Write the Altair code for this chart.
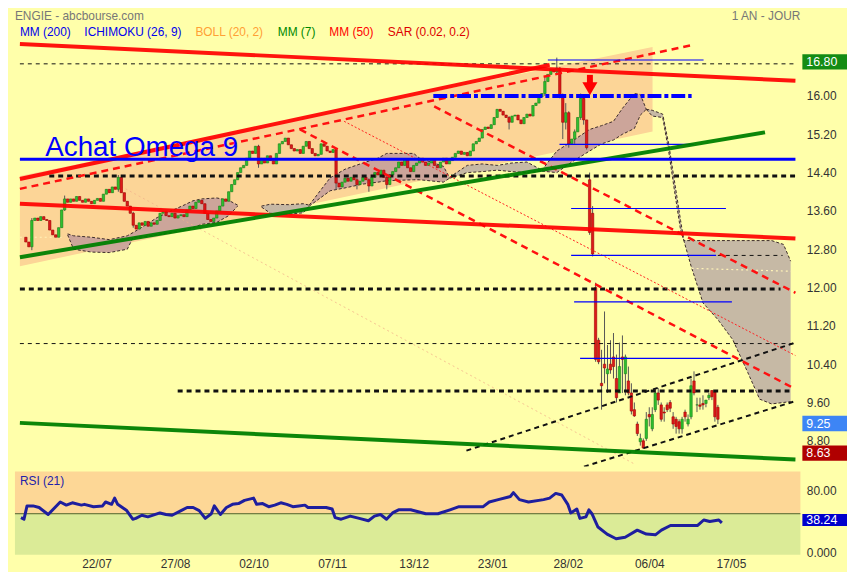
import altair as alt
import pandas as pd

# ---------------------------------------------------------------
# Values  (x = trading-day index, y = price)
# ---------------------------------------------------------------
calm_first_index = 2
calm_first_open = 13.05
calm_close = [
    12.95, 12.85, 13.40, 13.45, 13.40, 13.48, 13.42, 13.40, 13.20, 13.10,
    13.05, 13.25, 13.62, 13.85, 13.78, 13.85, 13.80, 13.90, 13.82, 13.78,
    13.85, 13.80, 13.75, 13.82, 13.86, 13.80, 13.95, 14.05, 13.98, 14.10,
    14.05, 14.30, 13.98, 13.80, 13.70, 13.55, 13.30, 13.22, 13.35, 13.30,
    13.38, 13.28, 13.35, 13.32, 13.40, 13.55, 13.58, 13.50, 13.48, 13.55,
    13.45, 13.50, 13.52, 13.48, 13.62, 13.70, 13.65, 13.78, 13.82, 13.75,
    13.55, 13.42, 13.38, 13.45, 13.60, 13.70, 13.85, 13.80, 14.00, 14.15,
    14.25, 14.40, 14.50, 14.55, 14.70, 14.85, 14.80, 14.95, 14.58, 14.70,
    14.60, 14.75, 14.65, 14.58, 14.80, 15.00, 15.05, 15.12, 14.98, 14.90,
    14.85, 14.88, 14.80, 14.95, 15.05, 14.90, 14.80, 14.75, 14.78, 15.00,
    14.95, 14.85, 14.82, 14.88, 14.18, 14.10, 14.20, 14.28, 14.22, 14.30,
    14.25, 14.15, 14.22, 14.30, 14.25, 14.12, 14.30, 14.40, 14.35, 14.45,
    14.30, 14.15, 14.35, 14.42, 14.50, 14.62, 14.55, 14.68, 14.50, 14.42,
    14.55, 14.60, 14.70, 14.62, 14.55, 14.60, 14.68, 14.55, 14.50, 14.62,
    14.70, 14.58, 14.65, 14.72, 14.80, 14.85, 14.78, 14.82, 14.75, 14.85,
    15.00, 15.05, 15.12, 15.30, 15.35, 15.32, 15.40, 15.55, 15.72, 15.68,
    15.60, 15.55, 15.45, 15.58, 15.60, 15.50, 15.42, 15.55, 15.62, 15.58,
    15.80, 15.85, 15.98, 16.05, 16.30, 16.45, 16.55, 16.50, 16.58, 16.02,
    15.45, 15.65, 15.00, 15.10, 15.25, 15.55, 15.95, 15.50, 14.92,
]
# visible wicks in the calm part: index -> (high, low)
calm_wicks = {
    4: (13.45, 12.78), 15: (13.92, 13.60), 33: (14.35, 14.00), 38: (13.58, 13.25),
    80: (14.98, 14.50), 106: (14.90, 14.05), 113: (14.30, 14.05), 117: (14.28, 14.00),
    123: (14.35, 14.05), 164: (15.58, 15.30), 176: (16.40, 16.00), 180: (16.80, 16.45),
    181: (16.60, 15.95), 182: (16.05, 15.10), 183: (15.85, 15.30), 184: (15.68, 14.92),
    186: (15.30, 15.00), 188: (16.05, 15.50), 189: (16.00, 15.40), 190: (15.50, 14.88),
}
# crash and after: (index, open, high, low, close)
crash_candles = [
    (191, 14.25, 14.40, 13.10, 13.15), (192, 13.55, 13.70, 12.65, 12.70),
    (193, 12.00, 12.10, 10.45, 10.50), (194, 10.90, 10.95, 10.40, 10.45),
    (195, 10.00, 10.70, 9.45, 9.95), (196, 10.40, 11.50, 10.00, 10.32),
    (197, 10.20, 10.80, 9.80, 10.30), (198, 10.40, 10.90, 10.20, 10.28),
    (199, 10.55, 11.05, 10.10, 10.35), (200, 10.10, 10.60, 9.60, 9.70),
    (201, 9.80, 10.85, 9.80, 10.35), (202, 10.55, 11.00, 9.80, 10.50),
    (203, 10.20, 10.60, 9.75, 10.55), (204, 10.05, 10.35, 9.75, 9.80),
    (205, 9.80, 10.00, 9.35, 9.42), (206, 9.45, 9.60, 9.30, 9.32),
    (207, 9.15, 9.20, 8.90, 8.95), (208, 8.78, 8.95, 8.70, 8.85),
    (209, 8.80, 8.85, 8.63, 8.65), (210, 8.85, 9.40, 8.80, 9.25),
    (211, 9.35, 9.50, 9.10, 9.30), (212, 9.05, 9.50, 9.00, 9.35),
    (213, 9.45, 9.90, 9.40, 9.80), (214, 9.80, 9.90, 9.55, 9.65),
    (215, 9.55, 9.60, 9.20, 9.25), (216, 9.40, 9.50, 9.20, 9.38),
    (217, 9.55, 9.60, 9.40, 9.45), (218, 9.60, 9.65, 9.40, 9.48),
    (219, 9.30, 9.40, 9.05, 9.15), (220, 9.25, 9.30, 8.95, 9.10),
    (221, 9.20, 9.25, 8.95, 9.05), (222, 9.05, 9.30, 8.95, 9.25),
    (223, 9.40, 9.45, 9.20, 9.30), (224, 9.15, 9.35, 9.10, 9.25),
    (225, 9.30, 10.10, 9.25, 9.95), (226, 10.05, 10.25, 9.75, 9.80),
    (227, 9.55, 9.70, 9.40, 9.55), (228, 9.55, 9.70, 9.45, 9.52),
    (229, 9.58, 9.75, 9.45, 9.55), (230, 9.58, 9.65, 9.50, 9.65),
    (231, 9.70, 9.80, 9.65, 9.75), (232, 9.85, 9.85, 9.65, 9.72),
    (233, 9.82, 9.85, 9.20, 9.30), (234, 9.50, 9.55, 9.15, 9.25),
]

rsi_index = [2, 3, 4, 6, 8, 11, 15, 17, 19, 22, 23, 26, 29, 30, 32, 33, 34, 37, 39, 40,
             42, 44, 48, 50, 52, 55, 57, 59, 61, 63, 65, 66, 68, 70, 72, 74, 76, 79, 80, 82,
             84, 86, 88, 90, 92, 94, 96, 97, 100, 103, 105, 106, 108, 111, 114, 117, 119, 121, 123, 125,
             127, 131, 136, 140, 144, 147, 155, 157, 160, 164, 165, 167, 170, 175, 177, 179, 181, 183, 184, 186,
             187, 189, 190, 191, 193, 196, 199, 202, 206, 209, 212, 214, 217, 226, 228, 230, 233, 234]
rsi_value = [45, 43, 60, 60, 58, 49, 65, 61, 64, 61, 62, 59, 60, 65, 62, 70, 62, 54, 43, 44,
             48, 46, 51, 49, 48, 54, 58, 58, 54, 44, 50, 60, 49, 58, 62, 63, 67, 70, 62, 63,
             59, 61, 64, 62, 59, 60, 61, 58, 58, 58, 56, 45, 43, 47, 44, 41, 47, 49, 43, 51,
             55, 55, 50, 50, 55, 59, 59, 65, 68, 72, 77, 68, 65, 68, 70, 76, 74, 62, 51, 56,
             44, 46, 55, 50, 33, 24, 18, 20, 29, 24, 23, 29, 35, 35, 42, 40, 42, 38.24]

date_index = [27, 53, 79, 105, 132, 158, 183, 210, 237]
date_labels = ["22/07", "27/08", "02/10", "07/11", "13/12", "23/01", "28/02", "06/04", "17/05"]

price_ticks = [16.0, 15.2, 14.4, 13.6, 12.8, 12.0, 11.2, 10.4, 9.6, 8.8]
rsi_ticks = [0, 80]

flag_values = [16.80, 9.25, 8.63]
flag_texts = ["16.80", "9.25", "8.63"]
flag_colors = ["#148C14", "#3D85F5", "#B00000"]
rsi_last = [38.24]
rsi_last_text = ["38.24"]

# Ichimoku cloud segments: (kind, index, upper span, lower span)
cloud_segments = [
    ("bull", [16, 18, 24, 30, 36, 38, 42, 46, 50, 55, 58, 61, 66, 70, 73],
     [13.12, 13.08, 13.05, 13.00, 13.08, 13.15, 13.30, 13.46, 13.58, 13.72, 13.81, 13.85, 13.87, 13.82, 13.72],
     [13.10, 12.80, 12.74, 12.73, 12.80, 13.05, 13.06, 13.10, 13.14, 13.19, 13.25, 13.32, 13.36, 13.50, 13.70]),
    ("bear", [81, 84, 90, 95, 97],
     [13.70, 13.74, 13.73, 13.75, 13.72],
     [13.68, 13.55, 13.53, 13.56, 13.70]),
    ("bull", [97, 104, 109, 115, 120, 123, 132, 134, 142, 144],
     [13.72, 14.29, 14.47, 14.60, 14.70, 14.80, 14.80, 14.70, 14.53, 14.30],
     [13.70, 14.02, 14.08, 14.16, 14.20, 14.23, 14.25, 14.25, 14.20, 14.28]),
    ("bear", [144, 150, 155, 160, 165, 170, 175],
     [14.30, 14.55, 14.58, 14.55, 14.60, 14.62, 14.45],
     [14.28, 14.40, 14.42, 14.45, 14.42, 14.40, 14.43]),
    ("bull", [175, 180, 185, 191, 195, 199, 202, 206, 208, 210],
     [14.45, 14.85, 15.05, 15.30, 15.38, 15.47, 15.74, 16.05, 16.03, 15.72],
     [14.43, 14.40, 14.62, 14.85, 15.00, 15.08, 15.20, 15.32, 15.60, 15.72]),
    ("bear", [210, 212, 215.5, 217.5, 219.5, 221.5, 222.6, 225, 229, 234, 239, 244, 248, 252, 256, 258.4],
     [15.72, 15.70, 15.62, 15.00, 14.20, 13.40, 12.98, 12.98, 12.98, 12.98, 12.98, 12.98, 12.98, 12.98, 12.90, 12.55],
     [15.72, 15.58, 15.55, 14.85, 14.00, 13.20, 12.98, 12.45, 11.68, 11.33, 10.91, 10.23, 9.67, 9.57, 9.60, 9.62]),
]

# channel shading: index range, upper edge, lower edge
channel_index = [0, 212.1]
channel_top = [14.33, 17.02]
channel_bottom = [12.445, 15.26]

# drawn lines: (start index, start price, end index, end price)
red_thick = [(0, 14.267, 177.6, 16.648), (0, 13.75, 260, 13.025), (0, 17.083, 260, 16.317)]
green_thick = [(0, 12.633, 249.8, 15.24), (0, 9.174, 260, 8.408)]
red_dashed = [(0, 14.06, 225.2, 17.06), (93.9, 15.30, 260, 9.88), (138.9, 15.78, 260, 11.89)]
red_dotted = [(108.7, 15.47, 260, 10.58)]
black_dotted_thick = [(9.85, 14.33, 260, 14.33), (0, 11.97, 255, 11.97), (52.9, 9.84, 258, 9.84)]
black_dashed_thin = [(0, 16.67, 260, 16.67), (0, 10.83, 260, 10.83), (234, 12.67, 255.7, 12.67)]
black_dashed_diag = [(149.7, 8.595, 260, 10.85), (189.1, 8.26, 260, 9.63)]
blue_thin = [(177, 16.75, 229.2, 16.75), (180.9, 14.99, 225.9, 14.99), (184.8, 13.65, 236.7, 13.65),
             (184.8, 12.67, 233.4, 12.67), (185.8, 11.70, 238.7, 11.70), (187.8, 10.52, 238.3, 10.52)]
blue_thick = [(0, 14.68, 260, 14.68)]
blue_dashdot = [(138.6, 16.00, 225.2, 16.00)]
pale_orange_dotted = [(32.5, 14.16, 206.5, 8.30)]
pale_yellow_dotted = [(225.2, 12.40, 258.7, 12.34), (0, 13.05, 15, 13.05)]

arrow_index = [191.1]
arrow_top = [16.44]
arrow_bottom = [16.25]
arrow_head = [16.15]

annotation_text = ["Achat Omega 9"]
annotation_index = [8.5]
annotation_price = [14.74]

legend_texts = ["MM (200)", "ICHIMOKU (26, 9)", "BOLL (20, 2)", "MM (7)", "MM (50)", "SAR (0.02, 0.2)"]
legend_colors = ["#0000EE", "#0000EE", "#FFA035", "#008800", "#FF0000", "#DD0000"]
legend_x = [5, 70, 182, 265, 317, 376]

# ---------------------------------------------------------------
# tables
# ---------------------------------------------------------------
rows = []
prev = calm_first_open
for k, c in enumerate(calm_close):
    i = calm_first_index + k
    o = prev
    hi, lo = calm_wicks.get(i, (max(o, c), min(o, c)))
    rows.append({"i": i, "open": o, "close": c, "high": max(hi, o, c), "low": min(lo, o, c)})
    prev = c
for (i, o, h, l, c) in crash_candles:
    rows.append({"i": i, "open": o, "close": c, "high": h, "low": l})
candles = pd.DataFrame(rows)
candles_up = candles[candles["close"] >= candles["open"]]
candles_down = candles[candles["close"] < candles["open"]]

cloud_rows, cloud_line_rows = [], []
for s, (kind, idx, up, lo) in enumerate(cloud_segments):
    for a, b, c in zip(idx, up, lo):
        cloud_rows.append({"seg": s, "kind": kind, "i": a, "up": b, "lo": c})
        cloud_line_rows.append({"line": f"{s}u", "i": a, "p": b})
        cloud_line_rows.append({"line": f"{s}l", "i": a, "p": c})
cloud = pd.DataFrame(cloud_rows)
cloud_lines = pd.DataFrame(cloud_line_rows)


def seg_df(segs):
    r = []
    for n, (i0, p0, i1, p1) in enumerate(segs):
        r += [{"seg": n, "i": i0, "p": p0}, {"seg": n, "i": i1, "p": p1}]
    return pd.DataFrame(r)


# ---------------------------------------------------------------
# scales / helpers
# ---------------------------------------------------------------
W = 792
H_MAIN = 430
H_RSI = 84
FONT = "Liberation Sans"

xs = alt.Scale(domain=[0, 260], nice=False, zero=False)
ys = alt.Scale(domain=[8.263, 17.166], nice=False, zero=False)
rs = alt.Scale(domain=[-2.5, 104], nice=False, zero=False)

main_y_axis = alt.Axis(orient="right", values=price_ticks, format=".2f", ticks=False, domain=False,
                       grid=False, title=None, labelPadding=6, labelFontSize=12, labelColor="#333333",
                       labelFont=FONT)


def X(f):
    return alt.X(f, type="quantitative", scale=xs, axis=None)


def Y(f):
    return alt.Y(f, type="quantitative", scale=ys, axis=main_y_axis)


def line_layer(segs, color, width, dash=None, opacity=1.0):
    kw = dict(color=color, strokeWidth=width, opacity=opacity, clip=True, strokeCap="butt")
    if dash:
        kw["strokeDash"] = dash
    return alt.Chart(seg_df(segs)).mark_line(**kw).encode(x=X("i"), y=Y("p"), detail="seg:N")


# ---------------------------------------------------------------
# main price panel
# ---------------------------------------------------------------
channel = alt.Chart(pd.DataFrame({"i": channel_index, "top": channel_top, "bot": channel_bottom})).mark_area(
    color="#FCD597", clip=True).encode(x=X("i"), y=Y("top"), y2=alt.Y2("bot"))

cloud_bull = alt.Chart(cloud[cloud["kind"] == "bull"]).mark_area(color="#C9A29A", opacity=0.95, clip=True).encode(
    x=X("i"), y=Y("up"), y2=alt.Y2("lo"), detail="seg:N")
cloud_bear = alt.Chart(cloud[cloud["kind"] == "bear"]).mark_area(color="#C3B5A4", opacity=0.95, clip=True).encode(
    x=X("i"), y=Y("up"), y2=alt.Y2("lo"), detail="seg:N")
cloud_edge = alt.Chart(cloud_lines).mark_line(color="#3C2A2A", strokeWidth=1, strokeDash=[3, 2], clip=True).encode(
    x=X("i"), y=Y("p"), detail="line:N")

wicks = alt.Chart(candles).mark_rule(color="#555555", strokeWidth=1, clip=True).encode(
    x=X("i"), y=Y("low"), y2=alt.Y2("high"))
bodies_up = alt.Chart(candles_up).mark_bar(width=2.4, strokeWidth=0.6, clip=True, color="#2EC02E",
                                           stroke="#1A801A").encode(
    x=X("i"), y=Y("open"), y2=alt.Y2("close"))
bodies_down = alt.Chart(candles_down).mark_bar(width=2.4, strokeWidth=0.6, clip=True, color="#DD1A1A",
                                               stroke="#A00000").encode(
    x=X("i"), y=Y("open"), y2=alt.Y2("close"))

arrow_df = pd.DataFrame({"i": arrow_index, "t": arrow_top, "b": arrow_bottom, "h": arrow_head})
arrow_shaft = alt.Chart(arrow_df).mark_rule(color="#FF0000", strokeWidth=6).encode(
    x=X("i"), y=Y("t"), y2=alt.Y2("b"))
arrow_tip = alt.Chart(arrow_df).mark_point(shape="triangle-down", filled=True, size=230, color="#FF0000",
                                           opacity=1).encode(x=X("i"), y=Y("h"))

omega = alt.Chart(pd.DataFrame({"t": annotation_text, "i": annotation_index, "p": annotation_price})).mark_text(
    align="left", baseline="alphabetic", fontSize=28, font=FONT, color="#0000FF").encode(
    x=X("i"), y=Y("p"), text="t:N")

flag_layers = []
for v, t, c in zip(flag_values, flag_texts, flag_colors):
    d = pd.DataFrame({"v": [v], "t": [t]})
    flag_layers.append(alt.Chart(d).mark_rect(yOffset=-3.5, y2Offset=12, color=c).encode(
        x=alt.value(794), x2=alt.value(839), y=Y("v"), y2=alt.Y2("v")))
    flag_layers.append(alt.Chart(d).mark_text(align="left", baseline="middle", dy=4.5, fontSize=12.5, font=FONT,
                                              color="white").encode(x=alt.value(798), y=Y("v"), text="t:N"))

title_l = alt.Chart(pd.DataFrame({"t": ["ENGIE - abcbourse.com"]})).mark_text(
    align="left", baseline="middle", fontSize=12, font=FONT, color="#777777").encode(
    x=alt.value(0), y=alt.value(-24), text="t:N")
title_r = alt.Chart(pd.DataFrame({"t": ["1 AN - JOUR"]})).mark_text(
    align="right", baseline="middle", fontSize=12, font=FONT, color="#777777").encode(
    x=alt.value(792), y=alt.value(-24), text="t:N")
legend_layers = [
    alt.Chart(pd.DataFrame({"t": [t]})).mark_text(align="left", baseline="middle", fontSize=12, font=FONT,
                                                  color=c).encode(x=alt.value(x), y=alt.value(-8), text="t:N")
    for t, c, x in zip(legend_texts, legend_colors, legend_x)
]

main = alt.layer(
    channel,
    cloud_bull,
    cloud_bear,
    cloud_edge,
    line_layer(pale_orange_dotted, "#F2B48C", 1, [2, 3], 0.8),
    line_layer(pale_yellow_dotted, "#FFF3B8", 1.2, [2, 3]),
    wicks,
    bodies_up,
    bodies_down,
    line_layer(black_dashed_thin, "#111111", 1, [4, 4]),
    line_layer(black_dotted_thick, "#111111", 3, [5, 4]),
    line_layer(black_dashed_diag, "#111111", 2, [5, 4]),
    line_layer(red_dotted, "#FF2020", 1, [2, 2]),
    line_layer(red_dashed, "#FF1010", 2.5, [7, 5]),
    line_layer(blue_thin, "#0000FF", 1.2),
    line_layer(red_thick, "#FF0000", 4, None, 0.92),
    line_layer(green_thick, "#008000", 4, None, 0.95),
    line_layer(blue_thick, "#0000FF", 3),
    line_layer(blue_dashdot, "#0000FF", 4, [14, 3, 4, 3]),
    arrow_shaft,
    arrow_tip,
    omega,
    *flag_layers,
    title_l,
    title_r,
    *legend_layers,
).properties(width=W, height=H_MAIN)

# ---------------------------------------------------------------
# RSI panel
# ---------------------------------------------------------------
date_expr = " : ".join(f"datum.value == {i} ? '{l}'" for i, l in zip(date_index, date_labels)) + " : ''"
rsi_x_axis = alt.Axis(values=date_index, labelExpr=date_expr, ticks=False, domain=False, grid=False, title=None,
                      labelPadding=4, labelFontSize=12, labelColor="#333333", labelFont=FONT,
                      labelOverlap=False)
rsi_y_axis = alt.Axis(orient="right", values=rsi_ticks,
                      labelExpr="datum.value == 0 ? '0.000' : format(datum.value, '.2f')",
                      ticks=False, domain=False, grid=False, title=None, labelPadding=6, labelFontSize=12,
                      labelColor="#333333", labelFont=FONT)


def XR(f):
    return alt.X(f, type="quantitative", scale=xs, axis=rsi_x_axis)


def YR(f):
    return alt.Y(f, type="quantitative", scale=rs, axis=rsi_y_axis)


zone_hi = alt.Chart(pd.DataFrame({"i0": [0], "i1": [260], "lo": [50], "hi": [104]})).mark_rect(
    color="#FDD796").encode(x=XR("i0"), x2=alt.X2("i1"), y=YR("lo"), y2=alt.Y2("hi"))
zone_lo = alt.Chart(pd.DataFrame({"i0": [0], "i1": [260], "lo": [-2.5], "hi": [50]})).mark_rect(
    color="#DBEB97").encode(x=XR("i0"), x2=alt.X2("i1"), y=YR("lo"), y2=alt.Y2("hi"))
rsi_mid = alt.Chart(pd.DataFrame({"i0": [0], "i1": [260], "v": [50]})).mark_rule(
    color="#4F5F2A", strokeWidth=1).encode(x=XR("i0"), x2=alt.X2("i1"), y=YR("v"))
rsi_line = alt.Chart(pd.DataFrame({"i": rsi_index, "v": rsi_value})).mark_line(
    color="#1E1E9E", strokeWidth=3, strokeJoin="round").encode(x=XR("i"), y=YR("v"))
rsi_title = alt.Chart(pd.DataFrame({"t": ["RSI (21)"]})).mark_text(
    align="left", baseline="middle", fontSize=12, font=FONT, color="#2222AA").encode(
    x=alt.value(5), y=alt.value(10), text="t:N")
rsi_df = pd.DataFrame({"v": rsi_last, "t": rsi_last_text})
rsi_box = alt.Chart(rsi_df).mark_rect(yOffset=-9, y2Offset=3, color="#0000CC").encode(
    x=alt.value(794), x2=alt.value(839), y=YR("v"), y2=alt.Y2("v"))
rsi_box_text = alt.Chart(rsi_df).mark_text(align="left", baseline="middle", dy=-3, fontSize=12.5, font=FONT,
                                           color="white").encode(x=alt.value(798), y=YR("v"), text="t:N")

rsi = alt.layer(zone_hi, zone_lo, rsi_mid, rsi_line, rsi_title, rsi_box, rsi_box_text).properties(
    width=W, height=H_RSI)

chart = alt.vconcat(main, rsi, spacing=5).properties(
    padding={"left": 6, "right": 0, "top": 0, "bottom": 0},
    background="#FFFFAA",
).configure_view(stroke=None)

chart.save("out.html", embed_options={"renderer": "svg", "actions": False})
